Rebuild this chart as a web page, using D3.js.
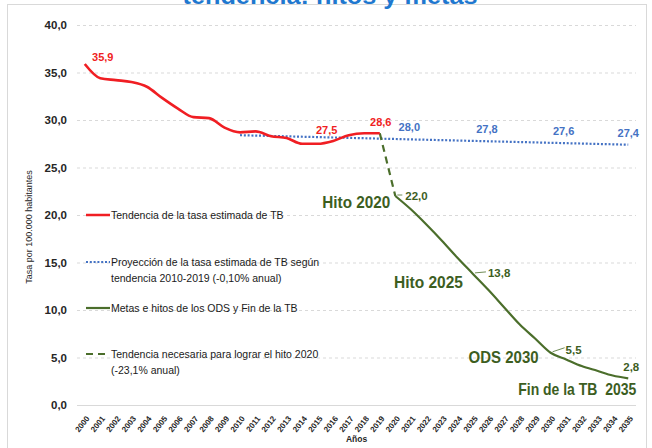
<!DOCTYPE html>
<html>
<head>
<meta charset="utf-8">
<script src="https://cdn.jsdelivr.net/npm/d3@7/dist/d3.min.js"></script>
<style>
  body { margin: 0; background: #fff; }
  svg { display: block; font-family: "Liberation Sans", Arial, sans-serif; }
</style>
</head>
<body>
<svg></svg>
<script>
// categories
const years = [2000, 2001, 2002, 2003, 2004, 2005, 2006, 2007, 2008, 2009,
               2010, 2011, 2012, 2013, 2014, 2015, 2016, 2017, 2018, 2019,
               2020, 2021, 2022, 2023, 2024, 2025, 2026, 2027, 2028, 2029,
               2030, 2031, 2032, 2033, 2034, 2035];
const yTicks = [0, 5, 10, 15, 20, 25, 30, 35, 40];

// estimated TB rate 2000-2019 (red)
const rateYears = years.slice(0, 20);
const rateValues = [35.9, 34.4, 34.2, 34.0, 33.5, 32.3, 31.2, 30.3, 30.2, 29.2,
                    28.7, 28.8, 28.3, 28.1, 27.5, 27.5, 27.8, 28.4, 28.6, 28.6];

// projection 2010-2019 trend (blue dotted)
const projYears = [2010, 2015, 2020, 2025, 2030, 2035];
const projValues = [28.4, 28.2, 28.0, 27.8, 27.6, 27.4];

// ODS targets and End TB (green)
const goalYears = years.slice(20);
const goalValues = [22.0, 20.6, 19.0, 17.3, 15.5, 13.8, 12.1, 10.3, 8.5, 7.0,
                    5.5, 4.8, 4.1, 3.6, 3.1, 2.8];

// needed trend to reach 2020 milestone (green dashed)
const neededYears = [2019, 2020];
const neededValues = [28.6, 22.0];

// labelled points
const rateLabelYears = [2000, 2015, 2019];
const projLabelYears = [2020, 2025, 2030, 2035];
const goalLabelYears = [2020, 2025, 2030, 2035];
const milestoneNames = ["Hito 2020", "Hito 2025", "ODS 2030", "Fin de la TB  2035"];

const legendNames = [
  ["Tendencia de la tasa estimada de TB"],
  ["Proyección de la tasa estimada de TB según", "tendencia 2010-2019 (-0,10% anual)"],
  ["Metas e hitos de los ODS y Fin de la TB"],
  ["Tendencia necesaria para lograr el hito 2020", "(-23,1% anual)"]
];

const width = 652, height = 448;
const plotLeft = 77, plotRight = 636, plotTop = 25, plotBottom = 405;

const red = "#f01e23", blue = "#4472c4", green = "#4b6e2b", greenText = "#3d5e1f";
const es = d3.formatLocale({decimal: ",", thousands: ".", grouping: [3], currency: ["", "€"]});
const fmt = es.format(".1f");

const svg = d3.select("svg").attr("width", width).attr("height", height);

// frame
svg.append("rect")
  .attr("x", 7.5).attr("y", 4.5).attr("width", 639).attr("height", 470)
  .attr("fill", "none").attr("stroke", "#d9d9d9");

// title (cut off at the top)
svg.append("text")
  .attr("x", 330).attr("y", 4)
  .attr("text-anchor", "middle")
  .attr("textLength", 295).attr("lengthAdjust", "spacingAndGlyphs")
  .style("font-size", "24px").style("font-weight", "bold")
  .attr("fill", "#1f78cf")
  .text("tendencia: hitos y metas");

const x = d3.scaleBand().domain(years).range([plotLeft, plotRight]).padding(0);
const cx = (yr) => x(yr) + x.bandwidth() / 2;
const y = d3.scaleLinear().domain([0, 40]).range([plotBottom, plotTop]);

// grid lines
svg.append("g")
  .selectAll("line")
  .data(yTicks)
  .enter()
  .append("line")
  .attr("x1", plotLeft).attr("x2", plotRight)
  .attr("y1", (d) => y(d) + 0.5).attr("y2", (d) => y(d) + 0.5)
  .attr("stroke", "#d9d9d9")
  .attr("stroke-dasharray", (d) => d === 0 ? null : "3,3");

// y axis
const yAxis = svg.append("g")
  .attr("transform", `translate(${plotLeft},0)`)
  .call(d3.axisLeft(y).tickValues(yTicks).tickSize(0).tickPadding(10).tickFormat(fmt));
yAxis.select(".domain").remove();
yAxis.selectAll("text")
  .style("font-size", "11.5px").style("font-weight", "bold").attr("fill", "#262626");

svg.append("text")
  .attr("transform", "translate(32,227) rotate(-90)")
  .attr("text-anchor", "middle")
  .style("font-size", "9px").attr("fill", "#262626")
  .text("Tasa por 100.000 habitantes");

// x axis
const xAxis = svg.append("g")
  .attr("transform", `translate(0,${plotBottom})`)
  .call(d3.axisBottom(x).tickSize(0));
xAxis.select(".domain").remove();
xAxis.selectAll("text")
  .attr("x", 0).attr("y", 0).attr("dy", "0.35em")
  .attr("transform", "translate(3,12) rotate(-52)")
  .attr("text-anchor", "end")
  .style("font-size", "8px").style("font-weight", "bold").attr("fill", "#262626");

svg.append("text")
  .attr("x", (plotLeft + plotRight) / 2).attr("y", 442)
  .attr("text-anchor", "middle")
  .style("font-size", "8.5px").style("font-weight", "bold").attr("fill", "#262626")
  .text("Años");

// lines
const smooth = d3.line().x((d) => cx(d[0])).y((d) => y(d[1])).curve(d3.curveMonotoneX);
const straight = d3.line().x((d) => cx(d[0])).y((d) => y(d[1]));

svg.append("path")
  .datum(d3.zip(projYears, projValues))
  .attr("d", straight)
  .attr("fill", "none").attr("stroke", blue)
  .attr("stroke-width", 2.2).attr("stroke-dasharray", "2,1.8");

svg.append("path")
  .datum(d3.zip(neededYears, neededValues))
  .attr("d", straight)
  .attr("fill", "none").attr("stroke", green)
  .attr("stroke-width", 2.2).attr("stroke-dasharray", "7,5");

svg.append("path")
  .datum(d3.zip(rateYears, rateValues))
  .attr("d", smooth)
  .attr("fill", "none").attr("stroke", red)
  .attr("stroke-width", 2.6).attr("stroke-linejoin", "round");

svg.append("path")
  .datum(d3.zip(goalYears, goalValues))
  .attr("d", smooth)
  .attr("fill", "none").attr("stroke", green)
  .attr("stroke-width", 2.2);

// data labels
const valueOf = (ys, vs, yr) => vs[ys.indexOf(yr)];

const rateLabelPos = [[18, -3, "middle"], [9, -10, "middle"], [1, -7, "middle"]];
svg.append("g")
  .selectAll("text")
  .data(rateLabelYears)
  .enter()
  .append("text")
  .attr("x", (d, i) => cx(d) + rateLabelPos[i][0])
  .attr("y", (d, i) => y(valueOf(rateYears, rateValues, d)) + rateLabelPos[i][1])
  .attr("text-anchor", (d, i) => rateLabelPos[i][2])
  .style("font-size", "11px").style("font-weight", "bold").attr("fill", red)
  .text((d) => fmt(valueOf(rateYears, rateValues, d)));

const projLabelPos = [[14, -8], [14, -8], [13, -8], [0, -8]];
svg.append("g")
  .selectAll("text")
  .data(projLabelYears)
  .enter()
  .append("text")
  .attr("x", (d, i) => cx(d) + projLabelPos[i][0])
  .attr("y", (d) => y(valueOf(projYears, projValues, d)))
  .attr("dy", (d, i) => projLabelPos[i][1])
  .attr("text-anchor", "middle")
  .style("font-size", "11px").style("font-weight", "bold").attr("fill", blue)
  .text((d) => fmt(valueOf(projYears, projValues, d)));

// green labels with leader lines
const goalLabelPos = [[10, 4, 8, -1], [15, 3, 14, -2], [15, 1, 15, -5], [3, -7, 0, 0]];
const goalG = svg.append("g");
goalG.selectAll("line")
  .data(goalLabelYears.slice(0, 3))
  .enter()
  .append("line")
  .attr("x1", (d) => cx(d) + 2)
  .attr("y1", (d) => y(valueOf(goalYears, goalValues, d)) - 1)
  .attr("x2", (d, i) => cx(d) + goalLabelPos[i][2] - 1)
  .attr("y2", (d, i) => y(valueOf(goalYears, goalValues, d)) + goalLabelPos[i][3])
  .attr("stroke", green).attr("stroke-width", 0.8);
goalG.selectAll("text")
  .data(goalLabelYears)
  .enter()
  .append("text")
  .attr("x", (d, i) => cx(d) + goalLabelPos[i][0])
  .attr("y", (d, i) => y(valueOf(goalYears, goalValues, d)) + goalLabelPos[i][1])
  .attr("text-anchor", (d, i) => i === 3 ? "middle" : "start")
  .style("font-size", "11.5px").style("font-weight", "bold").attr("fill", greenText)
  .text((d) => fmt(valueOf(goalYears, goalValues, d)));

// milestone names
const milestonePos = [[-5, 12, 68], [-10, 14, 69], [-12, 10, 70], [8, 17, 118]];
svg.append("g")
  .selectAll("text")
  .data(goalLabelYears)
  .enter()
  .append("text")
  .attr("x", (d, i) => cx(d) + milestonePos[i][0])
  .attr("y", (d, i) => y(valueOf(goalYears, goalValues, d)) + milestonePos[i][1])
  .attr("text-anchor", "end")
  .attr("textLength", (d, i) => milestonePos[i][2]).attr("lengthAdjust", "spacingAndGlyphs")
  .style("white-space", "pre")
  .style("font-size", "16.5px").style("font-weight", "bold").attr("fill", greenText)
  .text((d, i) => milestoneNames[i]);

// legend
const legendY = [215, 262, 308, 354];
const legendStyle = [
  {stroke: red, width: 2.5, dash: null},
  {stroke: blue, width: 2, dash: "2,1.8"},
  {stroke: green, width: 2.2, dash: null},
  {stroke: green, width: 2.2, dash: "7,5"}
];
const legend = svg.append("g");
legendNames.forEach((lines, i) => {
  legend.append("line")
    .attr("x1", 86).attr("x2", 110)
    .attr("y1", legendY[i]).attr("y2", legendY[i])
    .attr("stroke", legendStyle[i].stroke)
    .attr("stroke-width", legendStyle[i].width)
    .attr("stroke-dasharray", legendStyle[i].dash);
  lines.forEach((t, j) => {
    legend.append("text")
      .attr("x", 111).attr("y", legendY[i] + j * 16.5)
      .attr("dy", "0.35em")
      .style("font-size", "10.5px").attr("fill", "#1a1a1a")
      .text(t);
  });
});
</script>
</body>
</html>
